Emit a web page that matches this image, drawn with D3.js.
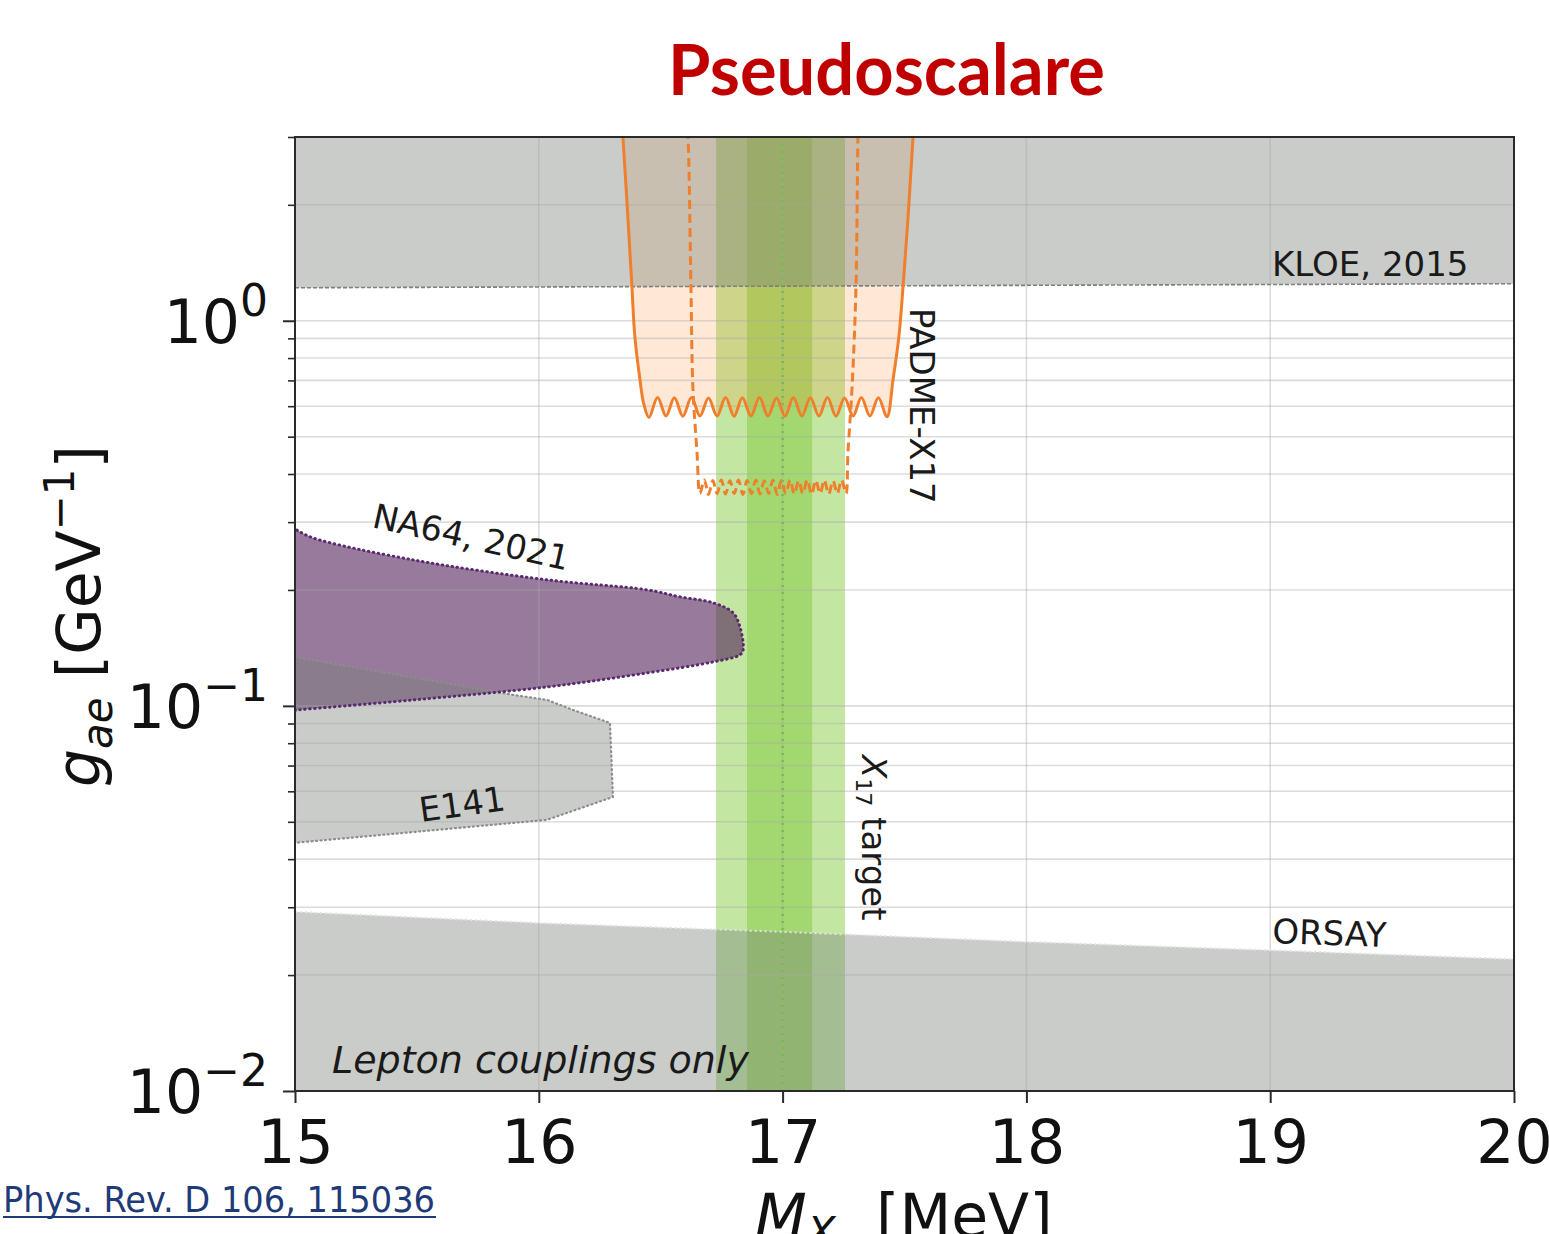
<!DOCTYPE html>
<html>
<head>
<meta charset="utf-8">
<script src="https://cdn.jsdelivr.net/npm/d3@7"></script>
<style>
  body { margin: 0; background: #fff; }
  svg { display: block; }
</style>
</head>
<body>
<svg id="chart" width="1549" height="1234"></svg>
<script>
// ---------- axes ----------
const massDomain = [15, 20];
const couplingDomain = [0.01, 3];
const massTicks = [15, 16, 17, 18, 19, 20];
const couplingMajorTicks = [0.01, 0.1, 1];
const couplingTickExponents = ["\u22122", "\u22121", "0"];

// ---------- KLOE, 2015 (excluded above) ----------
const kloeMass = [15, 20];
const kloeLower = [1.218, 1.248];

// ---------- ORSAY / lepton-only (excluded below) ----------
const orsayMass = [15, 16, 17, 18, 19, 20];
const orsayUpper = [0.0292, 0.0273, 0.0259, 0.0244, 0.0232, 0.0220];

// ---------- E141 contour ----------
const e141Mass = [15.0, 15.894, 16.034, 16.140, 16.292, 16.304, 16.034, 15.0];
const e141Coupling = [0.134, 0.1068, 0.1036, 0.0976, 0.0903, 0.0580, 0.0506, 0.0441];

// ---------- NA64, 2021 contour ----------
const na64Mass = [15.0, 15.008, 15.074, 15.484, 16.034, 16.444, 16.579, 16.715, 16.797, 16.825, 16.838,
                  16.825, 16.715, 16.444, 16.034, 15.484, 15.008, 15.0];
const na64Coupling = [0.288, 0.286, 0.273, 0.2394, 0.2125, 0.2001, 0.1919, 0.1852, 0.1744, 0.1604, 0.1398,
                      0.1357, 0.1301, 0.1218, 0.1120, 0.1036, 0.0976, 0.0975];

// ---------- X17 target band ----------
const x17Central = 17.0;
const x17Inner = [16.854, 17.121];
const x17Outer = [16.727, 17.256];

// ---------- PADME-X17 sensitivity (solid) ----------
const padmeMass = [16.338, 16.345, 16.366, 16.382, 16.394, 16.415, 16.430,
  16.452, 16.487, 16.522, 16.556, 16.591, 16.626, 16.661, 16.696, 16.731, 16.766,
  16.801, 16.835, 16.870, 16.905, 16.940, 16.975, 17.010, 17.044, 17.079, 17.114,
  17.149, 17.184, 17.219, 17.254, 17.289, 17.323, 17.358, 17.393, 17.428,
  17.453, 17.477, 17.494, 17.514, 17.535, 17.542];
const padmeCoupling = [3.4, 3.0, 1.83, 1.225, 0.909, 0.703, 0.610,
  0.561, 0.632, 0.566, 0.631, 0.565, 0.632, 0.566, 0.630, 0.566, 0.632,
  0.565, 0.631, 0.566, 0.632, 0.566, 0.630, 0.565, 0.632, 0.566, 0.631,
  0.566, 0.632, 0.565, 0.630, 0.566, 0.632, 0.566, 0.631, 0.563,
  0.703, 0.909, 1.225, 1.83, 3.0, 3.4];

// ---------- PADME-X17 sensitivity (dashed) ----------
const padmeRunMass = [16.605, 16.612, 16.624, 16.632, 16.649,
  16.661, 16.679, 16.696, 16.714, 16.731, 16.749, 16.766, 16.784, 16.802, 16.819,
  16.837, 16.854, 16.872, 16.890, 16.907, 16.925, 16.943, 16.960, 16.978, 16.995,
  17.013, 17.031, 17.048, 17.066, 17.083, 17.101, 17.119, 17.136, 17.154, 17.171,
  17.189, 17.207, 17.224, 17.242, 17.260,
  17.268, 17.285, 17.301, 17.309, 17.312];
const padmeRunCoupling = [3.4, 3.0, 1.225, 0.674, 0.454,
  0.356, 0.386, 0.354, 0.385, 0.356, 0.386, 0.355, 0.384, 0.356, 0.386,
  0.354, 0.385, 0.356, 0.386, 0.355, 0.384, 0.356, 0.386, 0.354, 0.385,
  0.356, 0.386, 0.355, 0.384, 0.356, 0.386, 0.354, 0.385, 0.356, 0.386,
  0.355, 0.384, 0.356, 0.386, 0.356,
  0.454, 0.674, 1.225, 3.0, 3.4];

// ---------- drawing ----------
const svg = d3.select("#chart");
const plot = { left: 295, right: 1514, top: 137, bottom: 1091 };
const x = d3.scaleLinear().domain(massDomain).range([plot.left, plot.right]);
const y = d3.scaleLog().domain(couplingDomain).range([plot.bottom, plot.top]);
const yTop = couplingDomain[1], yBottom = couplingDomain[0];
const FONT = "'DejaVu Sans', sans-serif";

const zip = (a, b) => a.map((v, i) => [v, b[i]]);

svg.append("defs").append("clipPath").attr("id", "plotClip")
  .append("rect")
  .attr("x", plot.left).attr("y", plot.top)
  .attr("width", plot.right - plot.left).attr("height", plot.bottom - plot.top);

const g = svg.append("g").attr("clip-path", "url(#plotClip)");

// X17 target bands
const GREEN = "#7dc832";
g.append("rect")
  .attr("x", x(x17Outer[0])).attr("width", x(x17Outer[1]) - x(x17Outer[0]))
  .attr("y", plot.top).attr("height", plot.bottom - plot.top)
  .attr("fill", GREEN).attr("fill-opacity", 0.45);
g.append("rect")
  .attr("x", x(x17Inner[0])).attr("width", x(x17Inner[1]) - x(x17Inner[0]))
  .attr("y", plot.top).attr("height", plot.bottom - plot.top)
  .attr("fill", GREEN).attr("fill-opacity", 0.45);

// NA64 region
const na64 = zip(na64Mass, na64Coupling);
const na64Path = d3.line().x(d => x(d[0])).y(d => y(d[1])).curve(d3.curveCatmullRomClosed.alpha(0.5));
g.append("path").attr("d", na64Path(na64))
  .attr("fill", "rgb(82,34,90)").attr("fill-opacity", 0.6);

// PADME fill (excluded above the solid curve)
const padme = zip(padmeMass, padmeCoupling);
const smooth = d3.curveCatmullRom.alpha(0.5);
g.append("path")
  .attr("d", d3.area().x(d => x(d[0])).y0(() => y(yTop) - 20).y1(d => y(d[1])).curve(smooth)(padme))
  .attr("fill", "#ff7f0e").attr("fill-opacity", 0.17);

// grey exclusion bands, translucent over the coloured regions
const GRAY = "rgb(120,128,120)", GRAY_OP = 0.4;
const kloe = zip(kloeMass, kloeLower);
g.append("path")
  .attr("d", d3.area().x(d => x(d[0])).y0(d => y(d[1])).y1(() => y(yTop))(kloe))
  .attr("fill", GRAY).attr("fill-opacity", GRAY_OP);
const orsay = zip(orsayMass, orsayUpper);
g.append("path")
  .attr("d", d3.area().x(d => x(d[0])).y0(() => y(yBottom)).y1(d => y(d[1]))(orsay))
  .attr("fill", GRAY).attr("fill-opacity", GRAY_OP);
const e141 = zip(e141Mass, e141Coupling);
const polyLine = d3.line().x(d => x(d[0])).y(d => y(d[1])).curve(d3.curveLinearClosed);
g.append("path").attr("d", polyLine(e141)).attr("fill", GRAY).attr("fill-opacity", GRAY_OP);

// grid
const gridG = g.append("g").attr("stroke", "#a8a8a8").attr("stroke-opacity", 0.4).attr("stroke-width", 1.6);
y.ticks().forEach(t => {
  gridG.append("line").attr("x1", plot.left).attr("x2", plot.right).attr("y1", y(t)).attr("y2", y(t));
});
massTicks.forEach(t => {
  gridG.append("line").attr("y1", plot.top).attr("y2", plot.bottom).attr("x1", x(t)).attr("x2", x(t));
});

// outlines
g.append("path")
  .attr("d", d3.line().x(d => x(d[0])).y(d => y(d[1]))(kloe))
  .attr("fill", "none").attr("stroke", "#7f7f7f").attr("stroke-width", 1.6).attr("stroke-dasharray", "4,2");
g.append("path")
  .attr("d", d3.line().x(d => x(d[0])).y(d => y(d[1]))(orsay))
  .attr("fill", "none").attr("stroke", "#e4e4e4").attr("stroke-width", 2).attr("stroke-dasharray", "2,3");
g.append("path").attr("d", polyLine(e141))
  .attr("fill", "none").attr("stroke", "#8c8c8c").attr("stroke-width", 2.2)
  .attr("stroke-dasharray", "1,3.5").attr("stroke-linecap", "round");
g.append("path").attr("d", na64Path(na64))
  .attr("fill", "none").attr("stroke", "#5a2a6e").attr("stroke-width", 3)
  .attr("stroke-dasharray", "0.5,4.5").attr("stroke-linecap", "round");

// X17 central value
g.append("line")
  .attr("x1", x(x17Central)).attr("x2", x(x17Central)).attr("y1", plot.top).attr("y2", plot.bottom)
  .attr("stroke", "#74c03c").attr("stroke-width", 2.5).attr("stroke-dasharray", "2,5");

// PADME curves
const curveLine = d3.line().x(d => x(d[0])).y(d => y(d[1])).curve(smooth);
g.append("path").attr("d", curveLine(padme))
  .attr("fill", "none").attr("stroke", "#ef7f2c").attr("stroke-width", 3);
const padmeRun = zip(padmeRunMass, padmeRunCoupling);
g.append("path").attr("d", curveLine(padmeRun))
  .attr("fill", "none").attr("stroke", "#ef7f2c").attr("stroke-width", 3)
  .attr("stroke-dasharray", "9,5");

// frame
svg.append("rect")
  .attr("x", plot.left).attr("y", plot.top)
  .attr("width", plot.right - plot.left).attr("height", plot.bottom - plot.top)
  .attr("fill", "none").attr("stroke", "#2a2a2a").attr("stroke-width", 2);

// x axis
const xAxis = svg.append("g").attr("transform", `translate(0,${plot.bottom})`)
  .call(d3.axisBottom(x).tickValues(massTicks).tickFormat(d3.format("d")).tickSize(12).tickPadding(17));
xAxis.select(".domain").remove();
xAxis.selectAll(".tick line").attr("stroke", "#2a2a2a").attr("stroke-width", 2);
xAxis.selectAll(".tick text").attr("font-family", FONT).attr("font-size", 60).attr("fill", "#111");

// y axis: major + minor ticks
const yAxis = svg.append("g").attr("transform", `translate(${plot.left},0)`)
  .call(d3.axisLeft(y).tickValues(couplingMajorTicks).tickFormat("").tickSize(12));
yAxis.select(".domain").remove();
yAxis.selectAll(".tick line").attr("stroke", "#2a2a2a").attr("stroke-width", 2);
const minorTicks = y.ticks().filter(t => !couplingMajorTicks.includes(t));
const yMinor = svg.append("g").attr("transform", `translate(${plot.left},0)`)
  .call(d3.axisLeft(y).tickValues(minorTicks).tickFormat("").tickSize(7));
yMinor.select(".domain").remove();
yMinor.selectAll(".tick line").attr("stroke", "#2a2a2a").attr("stroke-width", 1.6);

couplingMajorTicks.forEach((t, i) => {
  const txt = svg.append("text")
    .attr("x", plot.left - 27).attr("y", y(t) + 22)
    .attr("text-anchor", "end").attr("font-family", FONT).attr("font-size", 60).attr("fill", "#111");
  txt.append("tspan").text("10");
  txt.append("tspan").attr("font-size", 44).attr("dy", -27).text(couplingTickExponents[i]);
});

// axis titles
const yl = svg.append("text")
  .attr("transform", "translate(100,616) rotate(-90)")
  .attr("text-anchor", "middle").attr("font-family", FONT).attr("font-size", 60).attr("fill", "#111");
yl.append("tspan").attr("font-style", "italic").text("g");
yl.append("tspan").attr("font-style", "italic").attr("font-size", 42).attr("dy", 12).text("ae");
yl.append("tspan").attr("dy", -12).text(" [GeV");
yl.append("tspan").attr("font-size", 42).attr("dy", -26).text("\u22121");
yl.append("tspan").attr("dy", 26).text("]");

const xl = svg.append("text")
  .attr("x", 755).attr("y", 1237)
  .attr("font-family", FONT).attr("font-size", 60).attr("fill", "#111");
xl.append("tspan").attr("font-style", "italic").text("M");
xl.append("tspan").attr("font-style", "italic").attr("font-size", 42).attr("dy", 10).text("X");
xl.append("tspan").attr("dy", -10).attr("x", 876).text("[MeV]");

// region labels
const lab = (tx, ty, rot, text, opts = {}) => {
  const t = svg.append("text")
    .attr("transform", `translate(${tx},${ty}) rotate(${rot})`)
    .attr("font-family", FONT).attr("font-size", opts.size || 34).attr("fill", "#1a1a1a")
    .attr("font-style", opts.italic ? "italic" : "normal");
  t.text(text);
  return t;
};
lab(1272, 276, 0, "KLOE, 2015");
lab(1272, 943, 2, "ORSAY");
lab(371, 527, 12.5, "NA64, 2021");
lab(421, 822, -8, "E141");
lab(910, 308, 90, "PADME-X17");
lab(332, 1073, 0, "Lepton couplings only", { italic: true, size: 38 });

const xt = svg.append("text")
  .attr("transform", "translate(862,755) rotate(90)")
  .attr("font-family", FONT).attr("font-size", 34).attr("fill", "#1a1a1a");
xt.append("tspan").attr("font-style", "italic").text("X");
xt.append("tspan").attr("font-size", 22).attr("dy", 6).text("17");
xt.append("tspan").attr("dy", -6).text(" target");

// heading
svg.append("text")
  .attr("x", 668).attr("y", 95)
  .attr("font-family", "Lato, 'Open Sans', sans-serif").attr("font-weight", 700)
  .attr("font-size", 70).attr("fill", "#c00000")
  .attr("textLength", 437).attr("lengthAdjust", "spacingAndGlyphs")
  .text("Pseudoscalare");

// reference
svg.append("text")
  .attr("x", 3).attr("y", 1212)
  .attr("font-family", "'Liberation Sans Narrow', 'DejaVu Sans Condensed', 'Liberation Sans', sans-serif")
  .attr("font-size", 36).attr("fill", "#1f3a78")
  .attr("textLength", 432).attr("lengthAdjust", "spacingAndGlyphs")
  .text("Phys. Rev. D 106, 115036");
svg.append("line")
  .attr("x1", 3).attr("x2", 436).attr("y1", 1217).attr("y2", 1217)
  .attr("stroke", "#1f3a78").attr("stroke-width", 2);
</script>
</body>
</html>
